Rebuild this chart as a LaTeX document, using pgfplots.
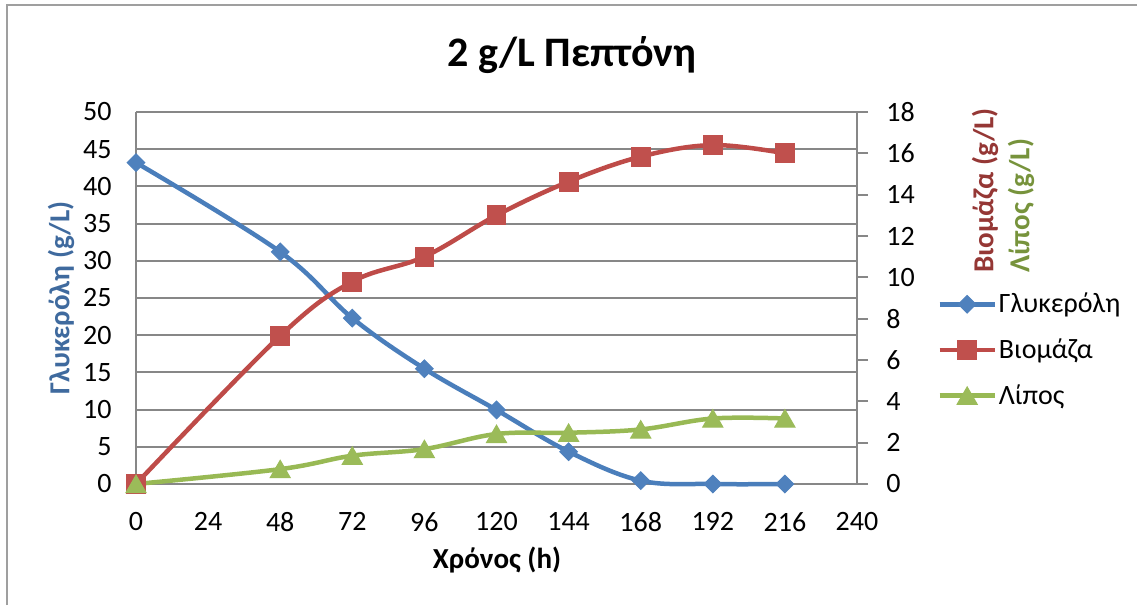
\documentclass[border=0pt]{standalone}
\usepackage{fontspec}
\setmainfont{Carlito}
\usepackage{pgfplots}
\usepackage{pgfplotstable}
\pgfplotsset{compat=1.18}

\definecolor{glyline}{HTML}{4A7EBB}
\definecolor{glymark}{HTML}{4F81BD}
\definecolor{bioline}{HTML}{BE4B48}
\definecolor{biomark}{HTML}{C0504D}
\definecolor{lipline}{HTML}{98B954}
\definecolor{lipmark}{HTML}{9BBB59}
\definecolor{glylabel}{HTML}{3F6A9E}
\definecolor{biolabel}{HTML}{953735}
\definecolor{liplabel}{HTML}{77933C}
\definecolor{gridgray}{HTML}{878787}

% time (h), glycerol (g/L), biomass (g/L), lipid (g/L)
\pgfplotstableread{
t   gly   bio   lip
0   43.2  0     0
48  31.2  7.17  0.72
72  22.3  9.79  1.37
96  15.5  11.0  1.69
120 9.95  13.0  2.42
144 4.35  14.63 2.48
168 0.45  15.84 2.64
192 0     16.4  3.17
216 0     16.0  3.17
}\growthdata

\pgfplotsset{
  common/.style={
    scale only axis,
    width=360.5bp, height=186bp,
    at={(68bp,60.5bp)}, anchor=south west,
    xmin=0, xmax=240,
    clip=false,
    tick label style={font=\fontsize{14bp}{16bp}\selectfont},
    /pgf/number format/assume math mode=true,
  },
}

\begin{document}
\begin{tikzpicture}[x=1bp,y=1bp]
\useasboundingbox (0,0) rectangle (568.5,302.5);
\draw[gridgray!80, line width=1bp] (3.5,0) -- (3.5,300) -- (568.5,300);

% left axis: glycerol
\begin{axis}[common,
  ymin=0, ymax=50,
  xtick={0,24,...,240}, ytick={0,5,...,50},
  axis x line*=bottom, axis y line*=left,
  axis line style={-, draw=gridgray, line width=1bp},
  major tick length=0pt,
  ymajorgrids, grid style={draw=gridgray, line width=1bp},
  xticklabel style={inner sep=0pt, anchor=north, yshift=-14bp},
  yticklabel style={inner sep=0pt, anchor=east, xshift=-12bp},
]
\addplot[glyline, line width=2.25bp, smooth, tension=0.6,
  mark=diamond*, mark size=4.4bp,
  mark options={xscale=1.333, fill=glymark, draw=glymark, line width=0.5bp}]
  table[x=t, y=gly] {\growthdata};
\end{axis}

% right axis: biomass and lipid
\begin{axis}[common,
  ymin=0, ymax=18, ytick={0,2,...,18},
  axis x line=none, axis y line*=right,
  axis line style={-, draw=gridgray, line width=1bp},
  tick style={draw=gridgray, line width=1bp},
  tick align=outside, major tick length=5.5bp,
  yticklabel style={inner sep=0pt, anchor=west, xshift=9bp},
  legend style={draw=none, fill=none, at={(axis description cs:1,0.5)},
    anchor=west, xshift=40bp, yshift=-26bp,
    font=\fontsize{14bp}{16bp}\selectfont,
    row sep=9.5bp, inner sep=0pt,
    nodes={inner sep=1bp}},
  legend cell align=left,
  legend image code/.code={
    \draw[mark repeat=2, mark phase=2] plot coordinates {(0bp,0bp) (13.75bp,0bp) (27.5bp,0bp)};},
]
\addlegendimage{glyline, line width=2.25bp, mark=diamond*, mark size=4.4bp,
  mark options={xscale=1.333, fill=glymark, draw=glymark, line width=0.5bp}}
\addlegendentry{Γλυκερόλη}
\addplot[bioline, line width=2.25bp, smooth, tension=0.6,
  mark=square*, mark size=4.7bp,
  mark options={fill=biomark, draw=biomark, line width=0.5bp}]
  table[x=t, y=bio] {\growthdata};
\addlegendentry{Βιομάζα}
\addplot[lipline, line width=2.25bp, smooth, tension=0.6,
  mark=triangle*, mark size=5.8bp,
  mark options={fill=lipmark, draw=lipmark, line width=0.5bp, yshift=-1.4bp}]
  table[x=t, y=lip] {\growthdata};
\addlegendentry{Λίπος}
\end{axis}

% titles and axis labels
\node[font=\bfseries\fontsize{21bp}{24bp}\selectfont] at (286,275) {2 g/L Πεπτόνη};
\node[font=\bfseries\fontsize{14.5bp}{17bp}\selectfont] at (248.5,22.5) {Χρόνος (h)};
\node[font=\bfseries\fontsize{14.5bp}{17bp}\selectfont, text=glylabel, rotate=90] at (30.5,153.5) {Γλυκερόλη (g/L)};
\node[font=\bfseries\fontsize{14.5bp}{17bp}\selectfont, text=biolabel, rotate=90, anchor=west, inner sep=0pt] at (492.5,166) {Βιομάζα (g/L)};
\node[font=\bfseries\fontsize{14.5bp}{17bp}\selectfont, text=liplabel, rotate=90, anchor=west, inner sep=0pt] at (510.5,166) {Λίπος (g/L)};
\end{tikzpicture}
\end{document}
